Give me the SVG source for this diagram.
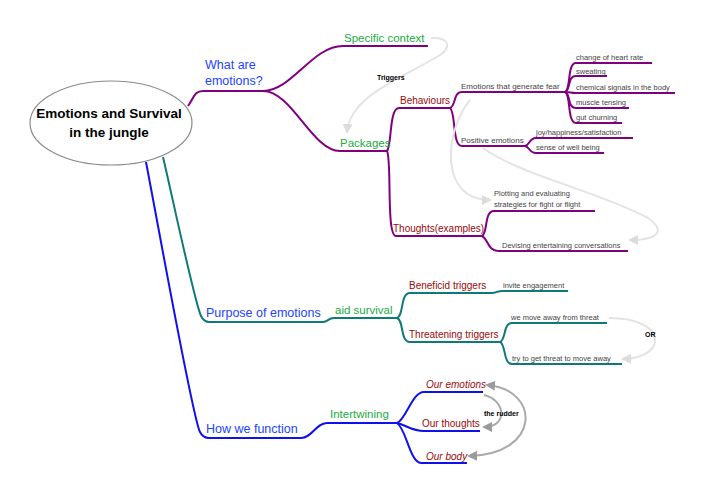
<svg xmlns="http://www.w3.org/2000/svg" width="705" height="494" viewBox="0 0 705 494">
<defs>
<style>
text{font-family:"Liberation Sans",Arial,sans-serif}
.pu{fill:none;stroke:#800080;stroke-width:2}
.te{fill:none;stroke:#0e7a78;stroke-width:2}
.bl{fill:none;stroke:#1010ee;stroke-width:2}
.lg{fill:none;stroke:#e4e4e4;stroke-width:2}
.dg{fill:none;stroke:#aaaaaa;stroke-width:2}
.t1{fill:#2244ff;font-size:12.5px}
.t2{fill:#22aa44;font-size:11.5px}
.t3{fill:#9a0a0a;font-size:10px}
.t4{fill:#444;font-size:8px}
.t5{fill:#444;font-size:7.5px}
.lab{fill:#000;font-size:7px;font-weight:bold}
.it{font-style:italic}
</style>
<marker id="al" viewBox="0 0 10 10" refX="8" refY="5" markerWidth="5" markerHeight="5" orient="auto-start-reverse"><path d="M0,0 L10,5 L0,10 z" fill="#dcdcdc"/></marker>
<marker id="ad" viewBox="0 0 10 10" refX="8" refY="5" markerWidth="5" markerHeight="5" orient="auto-start-reverse"><path d="M0,0 L10,5 L0,10 z" fill="#9a9a9a"/></marker>
</defs>
<rect width="705" height="494" fill="#fff"/>
<g id="connectors">
<path class="pu" d="M188,106 C194,98 194,91 203,91 L263,91"/>
<path class="pu" d="M263,91 C292,91 312,46 343,46 L428,46"/>
<path class="pu" d="M263,91 C292,91 312,151 340,151 L387,151"/>
<path class="pu" d="M387,151 C392,145 389,108 399,108 L450,108"/>
<path class="pu" d="M387,151 C392,160 386,236 396,236 L482,236"/>
<path class="pu" d="M450,108 C456,106 453,92 462,92 L565,92"/>
<path class="pu" d="M450,108 C456,112 452,146 462,146 L525,146"/>
<path class="pu" d="M565,92 C571,90 567,63 576,63 L652,63"/>
<path class="pu" d="M565,92 C571,90 567,76 576,76 L607,76"/>
<path class="pu" d="M565,92 C571,92 570,93 576,93 L675,93"/>
<path class="pu" d="M565,92 C571,94 567,108 576,108 L629,108"/>
<path class="pu" d="M565,92 C571,94 567,123 576,123 L622,123"/>
<path class="pu" d="M525,146 C530,145 529,138 536,138 L633,138"/>
<path class="pu" d="M525,146 C530,147 529,153 536,153 L604,153"/>
<path class="pu" d="M482,236 C488,233 484,211 494,211 L595,211"/>
<path class="pu" d="M482,236 C488,239 488,251 498,251 L628,251"/>
<path class="te" d="M163,157 C172,195 194,300 201,316 Q204,322 209,322 L323,322 C328,322 328,318 334,318 L397,318"/>
<path class="te" d="M397,318 C404,316 400,293 410,293 L492,293 C496,293 497,291 503,291 L568,291"/>
<path class="te" d="M397,318 C404,320 400,342 410,342 L500,342"/>
<path class="te" d="M500,342 C506,340 503,323 512,323 L607,323"/>
<path class="te" d="M500,342 C506,344 503,364 512,364 L622,364"/>
<path class="bl" d="M146,162 C160,235 193,420 200,432 Q203,438 209,438 L301,438 C312,438 316,423 327,423 L397,423"/>
<path class="bl" d="M397,423 C406,420 412,392 424,392 L483,392"/>
<path class="bl" d="M397,423 C406,425 412,431 424,431 L480,431"/>
<path class="bl" d="M397,423 C406,428 410,463 421,463 L467,463"/>
<path class="lg" marker-end="url(#al)" d="M431,38 C449,37 452,47 440,55 C405,77 350,95 347,132"/>
<path class="lg" marker-end="url(#al)" d="M470,100 C445,130 438,200 490,200"/>
<path class="lg" marker-end="url(#al)" d="M483,148 C520,175 600,192 648,218 C668,232 655,240 630,240"/>
<path class="lg" marker-end="url(#al)" d="M609,318 C668,318 668,358 623,359"/>
<path class="dg" marker-end="url(#ad)" d="M484,395 C506,400 508,427 484,427"/>
<path class="dg" marker-start="url(#ad)" marker-end="url(#ad)" d="M487,385 C542,390 540,455 469,456"/>
</g>
<g id="root">
<ellipse cx="111" cy="123" rx="81" ry="42" fill="#fff" stroke="#8a8a8a" stroke-width="1.2"/>
<text x="109" y="118" text-anchor="middle" font-size="13.5" font-weight="bold" fill="#000">Emotions and Survival</text>
<text x="109" y="137" text-anchor="middle" font-size="13.5" font-weight="bold" fill="#000">in the jungle</text>
</g>
<g id="what"><text class="t1" x="205" y="69">What are</text><text class="t1" x="205" y="85">emotions?</text></g>
<g id="specific"><text class="t2" x="344" y="42">Specific context</text></g>
<g id="packages"><text class="t2" x="340" y="147">Packages</text></g>
<g id="behaviours"><text class="t3" x="400" y="104">Behaviours</text></g>
<g id="thoughts"><text class="t3" x="393" y="232">Thoughts(examples)</text></g>
<g id="fear"><text class="t4" x="461" y="89">Emotions that generate fear</text></g>
<g id="positive"><text class="t4" x="461" y="143">Positive emotions</text></g>
<g id="heart"><text class="t5" x="576" y="60">change of heart rate</text></g>
<g id="sweat"><text class="t5" x="576" y="74">sweating</text></g>
<g id="chem"><text class="t5" x="576" y="90">chemical signals in the body</text></g>
<g id="muscle"><text class="t5" x="576" y="105">muscle tensing</text></g>
<g id="gut"><text class="t5" x="576" y="120">gut churning</text></g>
<g id="joy"><text class="t5" x="536" y="135">joy/happiness/satisfaction</text></g>
<g id="wellbeing"><text class="t5" x="536" y="150">sense of well being</text></g>
<g id="plotting"><text class="t5" x="494" y="196">Plotting and evaluating</text><text class="t5" x="494" y="207">strategies for fight or flight</text></g>
<g id="devising"><text class="t5" x="502" y="248">Devising entertaining conversations</text></g>
<g id="purpose"><text class="t1" x="206" y="317">Purpose of emotions</text></g>
<g id="aid"><text class="t2" x="335" y="314" font-size="12.5">aid survival</text></g>
<g id="beneficial"><text class="t3" x="409" y="289">Beneficid triggers</text></g>
<g id="invite"><text class="t5" x="503" y="288">invite engagement</text></g>
<g id="threat"><text class="t3" x="409" y="338">Threatening triggers</text></g>
<g id="moveaway"><text class="t5" x="511" y="320">we move away from threat</text></g>
<g id="tryto"><text class="t5" x="512" y="361">try to get threat to move away</text></g>
<g id="how"><text class="t1" x="206" y="433">How we function</text></g>
<g id="intertwining"><text class="t2" x="330" y="418" font-size="12.5">Intertwining</text></g>
<g id="ouremotions"><text class="t3 it" x="426" y="388">Our emotions</text></g>
<g id="ourthoughts"><text class="t3" x="422" y="427">Our thoughts</text></g>
<g id="ourbody"><text class="t3 it" x="426" y="460">Our body</text></g>
<g id="labels">
<text class="lab" x="377" y="80">Triggers</text>
<text class="lab" x="645" y="337">OR</text>
<text class="lab" x="484" y="416">the rudder</text>
</g>
</svg>
